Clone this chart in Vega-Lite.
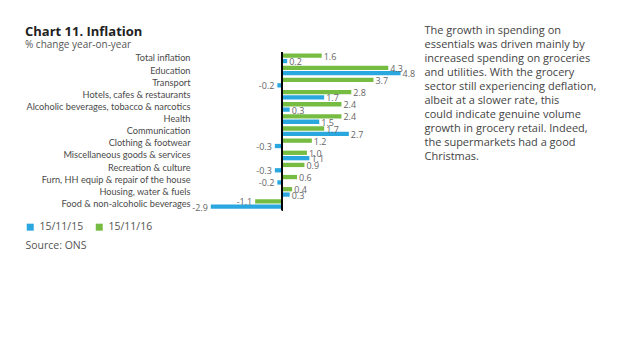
{
  "$schema": "https://vega.github.io/schema/vega-lite/v6.json",
  "autosize": "none",
  "width": 221.85,
  "height": 157.8,
  "padding": {"left": 196, "top": 52.3, "right": 220, "bottom": 149},
  "background": "white",
  "title": {
    "text": "Chart 11. Inflation",
    "subtitle": "% change year-on-year",
    "anchor": "start",
    "frame": "group",
    "dx": -171,
    "dy": 29,
    "offset": 4,
    "font": "Open Sans",
    "fontSize": 13,
    "fontWeight": "bold",
    "color": "#222222",
    "subtitleFont": "Open Sans",
    "subtitleFontSize": 10,
    "subtitleColor": "#555555",
    "subtitlePadding": 1
  },
  "data": {
    "values": [
      {"category": "Total inflation", "series": "15/11/16", "value": 1.6},
      {"category": "Total inflation", "series": "15/11/15", "value": 0.2},
      {"category": "Education", "series": "15/11/16", "value": 4.3},
      {"category": "Education", "series": "15/11/15", "value": 4.8},
      {"category": "Transport", "series": "15/11/16", "value": 3.7},
      {"category": "Transport", "series": "15/11/15", "value": -0.2},
      {"category": "Hotels, cafes & restaurants", "series": "15/11/16", "value": 2.8},
      {"category": "Hotels, cafes & restaurants", "series": "15/11/15", "value": 1.7},
      {"category": "Alcoholic beverages, tobacco & narcotics", "series": "15/11/16", "value": 2.4},
      {"category": "Alcoholic beverages, tobacco & narcotics", "series": "15/11/15", "value": 0.3},
      {"category": "Health", "series": "15/11/16", "value": 2.4},
      {"category": "Health", "series": "15/11/15", "value": 1.5},
      {"category": "Communication", "series": "15/11/16", "value": 1.7},
      {"category": "Communication", "series": "15/11/15", "value": 2.7},
      {"category": "Clothing & footwear", "series": "15/11/16", "value": 1.2},
      {"category": "Clothing & footwear", "series": "15/11/15", "value": -0.3},
      {"category": "Miscellaneous goods & services", "series": "15/11/16", "value": 1.0},
      {"category": "Miscellaneous goods & services", "series": "15/11/15", "value": 1.1},
      {"category": "Recreation & culture", "series": "15/11/16", "value": 0.9},
      {"category": "Recreation & culture", "series": "15/11/15", "value": -0.3},
      {"category": "Furn, HH equip & repair of the house", "series": "15/11/16", "value": 0.6},
      {"category": "Furn, HH equip & repair of the house", "series": "15/11/15", "value": -0.2},
      {"category": "Housing, water & fuels", "series": "15/11/16", "value": 0.4},
      {"category": "Housing, water & fuels", "series": "15/11/15", "value": 0.3},
      {"category": "Food & non-alcoholic beverages", "series": "15/11/16", "value": -1.1},
      {"category": "Food & non-alcoholic beverages", "series": "15/11/15", "value": -2.9}
    ]
  },
  "encoding": {
    "y": {
      "field": "category",
      "type": "nominal",
      "sort": null,
      "scale": {"paddingInner": 0, "paddingOuter": 0},
      "axis": {
        "domain": false,
        "ticks": false,
        "labelPadding": 6,
        "labelFont": "Lato",
        "labelFontSize": 9.2,
        "labelColor": "#4a4a4a",
        "labelLimit": 300,
        "title": [
          "The growth in spending on",
          "essentials was driven mainly by",
          "increased spending on groceries",
          "and utilities. With the grocery",
          "sector still experiencing deflation,",
          "albeit at a slower rate, this",
          "could indicate genuine volume",
          "growth in grocery retail. Indeed,",
          "the supermarkets had a good",
          "Christmas."
        ],
        "titleX": 228,
        "titleY": -18.3,
        "titleAngle": 0,
        "titleAlign": "left",
        "titleBaseline": "alphabetic",
        "titleFont": "Open Sans",
        "titleFontSize": 11,
        "titleFontWeight": "normal",
        "titleColor": "#444444",
        "titleLineHeight": 13.9
      }
    },
    "x": {
      "field": "value",
      "type": "quantitative",
      "scale": {"domain": [-3.5, 5.5], "nice": false, "zero": false},
      "axis": {
        "domain": false,
        "ticks": false,
        "labels": false,
        "grid": false,
        "title": "Source: ONS",
        "titleX": -171,
        "titleY": 38.9,
        "titleAlign": "left",
        "titleAnchor": "start",
        "titleBaseline": "alphabetic",
        "titleFont": "Open Sans",
        "titleFontSize": 10.5,
        "titleFontWeight": "normal",
        "titleColor": "#555555"
      }
    }
  },
  "layer": [
    {
      "mark": {"type": "bar"},
      "encoding": {
        "yOffset": {
          "field": "series",
          "type": "nominal",
          "scale": {"domain": ["15/11/16", "15/11/15"], "paddingInner": 0.2, "paddingOuter": 0.23}
        },
        "color": {
          "field": "series",
          "type": "nominal",
          "scale": {"domain": ["15/11/15", "15/11/16"], "range": ["#2aa7df", "#76bc43"]},
          "legend": {
            "orient": "none",
            "direction": "horizontal",
            "legendX": -171,
            "legendY": 169.5,
            "title": null,
            "symbolType": "square",
            "symbolSize": 49,
            "symbolStrokeWidth": 0,
            "labelFont": "Open Sans",
            "labelFontSize": 10.5,
            "labelColor": "#555555",
            "labelOffset": 4,
            "columnSpacing": 11
          }
        }
      }
    },
    {
      "transform": [{"filter": "datum.value >= 0"}],
      "mark": {"type": "text", "align": "left", "baseline": "middle", "dx": 2, "dy": 1, "font": "Open Sans", "fontSize": 9, "color": "#666666"},
      "encoding": {
        "yOffset": {"field": "series", "type": "nominal"},
        "text": {"field": "value", "type": "quantitative", "format": ".1f"}
      }
    },
    {
      "transform": [{"filter": "datum.value < 0"}],
      "mark": {"type": "text", "align": "right", "baseline": "middle", "dx": -3, "dy": 1, "font": "Open Sans", "fontSize": 9, "color": "#666666"},
      "encoding": {
        "yOffset": {"field": "series", "type": "nominal"},
        "text": {"field": "value", "type": "quantitative", "format": ".1f"}
      }
    },
    {
      "mark": {"type": "rule", "color": "#000000", "strokeWidth": 1},
      "encoding": {
        "x": {"datum": 0, "type": "quantitative"},
        "y": null
      }
    }
  ],
  "config": {
    "view": {"stroke": null},
    "locale": {
      "number": {"decimal": ".", "thousands": ",", "grouping": [3], "currency": ["$", ""], "minus": "-"}
    }
  }
}
